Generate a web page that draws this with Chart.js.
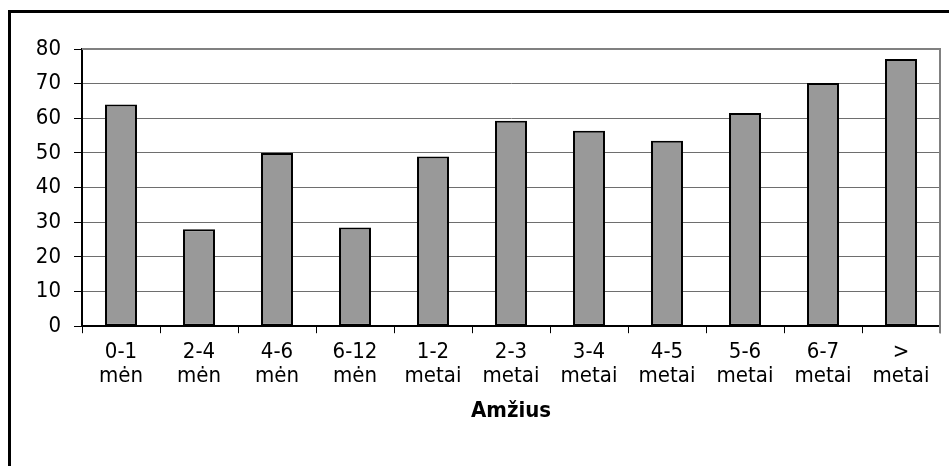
<!DOCTYPE html>
<html>
<head>
<meta charset="utf-8">
<script src="https://cdn.jsdelivr.net/npm/chart.js@4/dist/chart.umd.min.js"></script>
<style>
    body { margin: 0; background: #fff; }
    #wrap { position: relative; width: 949px; height: 466px; overflow: hidden; }
    #frame {
        position: absolute; left: 8px; top: 10px; width: 945px; height: 470px;
        border: 3px solid #000; box-sizing: border-box; pointer-events: none;
    }
    canvas { position: absolute; left: 0; top: 0; }
</style>
</head>
<body>
<div id="wrap">
    <canvas id="chart" width="949" height="466"></canvas>
    <div id="frame"></div>
</div>
<script>
    // Age groups (two lines each) and their values
    const categories = [
        ['0-1', 'mėn'], ['2-4', 'mėn'], ['4-6', 'mėn'], ['6-12', 'mėn'],
        ['1-2', 'metai'], ['2-3', 'metai'], ['3-4', 'metai'], ['4-5', 'metai'],
        ['5-6', 'metai'], ['6-7', 'metai'], ['>', 'metai']
    ];
    const values = [64, 28, 50, 28.5, 49, 59.3, 56.4, 53.5, 61.5, 70.2, 77.1];
    const yTicks = [0, 10, 20, 30, 40, 50, 60, 70, 80];
    const axisTitle = 'Amžius';

    const font = 'DejaVu Sans Condensed, DejaVu Sans';

    // gray top and right edges of the plot area, like the original
    const plotBorder = {
        id: 'plotBorder',
        afterDraw(chart) {
            const a = chart.chartArea;
            const ctx = chart.ctx;
            ctx.save();
            ctx.strokeStyle = '#808080';
            ctx.lineWidth = 2;
            ctx.beginPath();
            ctx.moveTo(a.left, a.top);
            ctx.lineTo(a.right, a.top);
            ctx.lineTo(a.right, a.bottom + 7);
            ctx.stroke();
            ctx.restore();
        }
    };

    new Chart(document.getElementById('chart'), {
        type: 'bar',
        data: {
            labels: categories,
            datasets: [{
                data: values,
                backgroundColor: '#999999',
                borderColor: '#000000',
                borderWidth: 2,
                borderSkipped: false,
                barPercentage: 0.41,
                categoryPercentage: 1
            }]
        },
        options: {
            responsive: false,
            animation: false,
            layout: { padding: { left: 0, right: 9, top: 49, bottom: 42 } },
            plugins: {
                legend: { display: false },
                tooltip: { enabled: false }
            },
            scales: {
                x: {
                    grid: {
                        drawOnChartArea: false,
                        drawTicks: true,
                        tickLength: 7,
                        color: '#000000',
                        lineWidth: 1
                    },
                    border: { color: '#000000', width: 2 },
                    ticks: {
                        color: '#000000',
                        font: { family: font, size: 22, lineHeight: 1.1 },
                        padding: 7,
                        maxRotation: 0,
                        autoSkip: false
                    },
                    title: {
                        display: true,
                        text: axisTitle,
                        color: '#000000',
                        font: { family: font, size: 22, weight: 'bold' },
                        padding: { top: 2, bottom: 0 }
                    }
                },
                y: {
                    min: 0,
                    max: 80,
                    afterBuildTicks(scale) {
                        scale.ticks = yTicks.map(v => ({ value: v }));
                    },
                    afterFit(scale) {
                        scale.width = 82;
                    },
                    grid: {
                        color: '#6e6e6e',
                        lineWidth: 1,
                        tickLength: 8,
                        tickColor: '#000000',
                        tickWidth: 1
                    },
                    border: { color: '#000000', width: 2 },
                    ticks: {
                        color: '#000000',
                        font: { family: font, size: 22 },
                        padding: 13
                    }
                }
            }
        },
        plugins: [plotBorder]
    });
</script>
</body>
</html>
